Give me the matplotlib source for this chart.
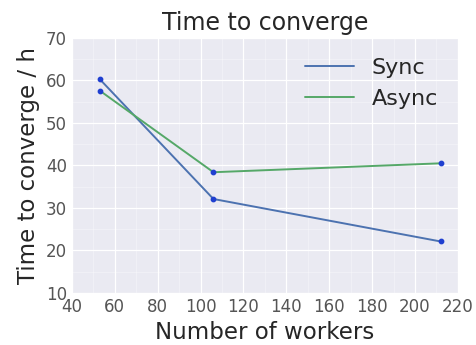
import matplotlib
matplotlib.use("Agg")
import matplotlib.pyplot as plt
import seaborn as sns
from matplotlib.ticker import AutoMinorLocator

workers = [53, 106, 212]
sync_hours = [60.3, 32.1, 22.1]
async_hours = [57.6, 38.4, 40.5]

sns.set_style("darkgrid")
plt.rcParams['font.family'] = ['DejaVu Sans']

fig, ax = plt.subplots(figsize=(4.76, 3.45), dpi=100)
ax.plot(workers, sync_hours, color="#4C72B0", lw=1.4, label="Sync")
ax.plot(workers, async_hours, color="#55A868", lw=1.4, label="Async")
ax.scatter(workers, sync_hours, color="#1f3fd0", s=10, zorder=3)
ax.scatter(workers, async_hours, color="#1f3fd0", s=10, zorder=3)

ax.set_xlim(40, 220)
ax.set_ylim(10, 70)
ax.set_xticks(range(40, 221, 20))
ax.set_yticks(range(10, 71, 10))
ax.xaxis.set_minor_locator(AutoMinorLocator(2))
ax.yaxis.set_minor_locator(AutoMinorLocator(2))
ax.grid(which="major", color="white", lw=0.9)
ax.grid(which="minor", color="white", lw=0.4, alpha=0.6)
ax.tick_params(which="both", length=0, labelsize=12, colors="#555555")

ax.set_title("Time to converge", fontsize=17, color="#262626")
ax.set_xlabel("Number of workers", fontsize=16.5, color="#262626")
ax.set_ylabel("Time to converge / h", fontsize=16.5, color="#262626")
ax.legend(fontsize=16, frameon=False, loc="upper right", handlelength=2.2)

fig.subplots_adjust(left=0.151, right=0.962, top=0.89, bottom=0.151)
fig.savefig("out.png")
